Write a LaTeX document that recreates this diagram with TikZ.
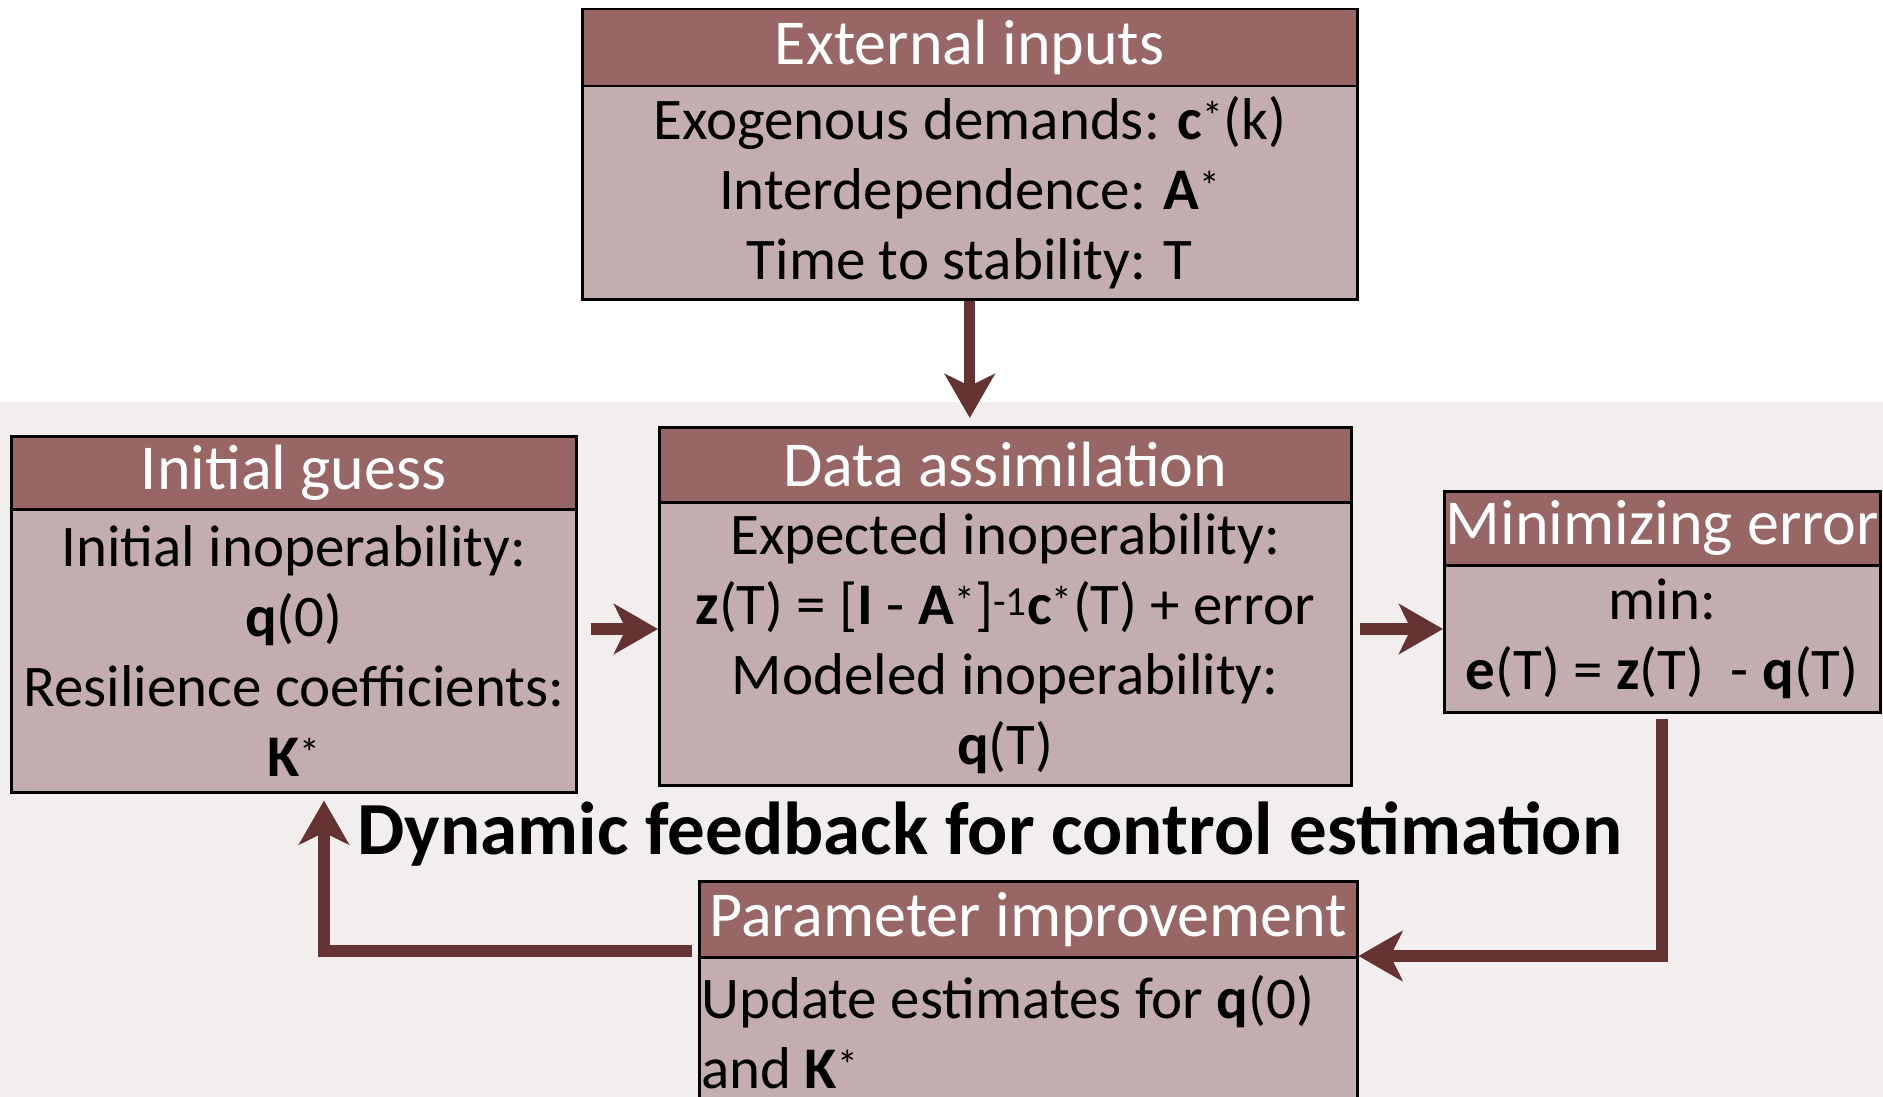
\documentclass[tikz,border=0pt]{standalone}
\usepackage{fontspec}
\setmainfont{Carlito}
\usetikzlibrary{arrows.meta}
\definecolor{hdr}{RGB}{152,102,101}
\definecolor{bdy}{RGB}{196,173,174}
\definecolor{arrc}{RGB}{102,51,51}
\definecolor{band}{RGB}{243,238,238}
\tikzset{
  hdrbox/.style={draw=black, line width=2.5pt, fill=hdr, text=white, inner sep=0pt, anchor=north west, font=\fontsize{64}{70}\selectfont},
  bodybox/.style={draw=black, line width=2.5pt, fill=bdy, text=black, inner sep=0pt, anchor=north west, align=center, font=\fontsize{59}{70}\selectfont},
  arr/.style={draw=arrc, line width=12pt, -{Stealth[length=44pt, width=50pt, inset=12pt]}},
}
\begin{document}
\begin{tikzpicture}[x=1pt,y=-1pt]
\useasboundingbox (0,0) rectangle (1883,1097);
\fill[band] (0,402) rectangle (1883,1097);

% External inputs
\node[hdrbox, minimum width=775pt, minimum height=77pt] (extH) at (581,8) {External inputs};
\node[bodybox, minimum width=775pt, minimum height=213pt] (extB) at (581,85)
  {Exogenous demands: \textbf{c}\textsuperscript{*}(k)\\Interdependence: \textbf{A}\textsuperscript{*}\\Time to stability: T};

% Initial guess
\node[hdrbox, minimum width=565pt, minimum height=73pt] (guessH) at (10,435) {Initial guess};
\node[bodybox, minimum width=565pt, minimum height=283pt] (guessB) at (10,508)
  {Initial inoperability:\\\textbf{q}(0)\\Resilience coefficients:\\\textbf{K}\textsuperscript{*}};

% Data assimilation
\node[hdrbox, minimum width=692pt, minimum height=75pt] (dataH) at (658,426) {Data assimilation};
\node[bodybox, minimum width=692pt, minimum height=283pt] (dataB) at (658,501)
  {Expected inoperability:\\\textbf{z}(T) = [\textbf{I} - \textbf{A}\textsuperscript{*}]\textsuperscript{-1}\textbf{c}\textsuperscript{*}(T) + error\\Modeled inoperability:\\\textbf{q}(T)};

% Minimizing error
\node[hdrbox, minimum width=436pt, minimum height=74pt] (minH) at (1443,490) {Minimizing error};
\node[bodybox, minimum width=436pt, minimum height=147pt] (minB) at (1443,564)
  {min:\\\textbf{e}(T) = \textbf{z}(T)~ - \textbf{q}(T)};

% Parameter improvement
\node[hdrbox, minimum width=658pt, minimum height=76pt] (paramH) at (698,880) {Parameter improvement};
\node[bodybox, minimum width=658pt, minimum height=150pt, text width=654pt, align=flush left] (paramB) at (698,956)
  {Update estimates for \textbf{q}(0)\\and \textbf{K}\textsuperscript{*}};

% title
\node[font=\fontsize{75}{80}\selectfont\bfseries, inner sep=0pt] (title) at (990,834) {Dynamic feedback for control estimation};

% connectors
\coordinate (r1) at (0,629);
\coordinate (r2) at (0,951);
\coordinate (c3) at (324,0);
\draw[arr, line width=11pt, shorten >=8pt] (extB.south) -- (extB.south |- dataH.north);
\draw[arr, shorten <=13pt] (guessB.east |- r1) -- (dataB.west |- r1);
\draw[arr, shorten <=7pt] (dataB.east |- r1) -- (minB.west |- r1);
\draw[arr, shorten <=5pt] (minB.south) |- (paramB.north east);
\draw[arr, shorten <=6pt, shorten >=7pt] (paramH.west |- r2) -| (c3 |- guessB.south);
\end{tikzpicture}
\end{document}
